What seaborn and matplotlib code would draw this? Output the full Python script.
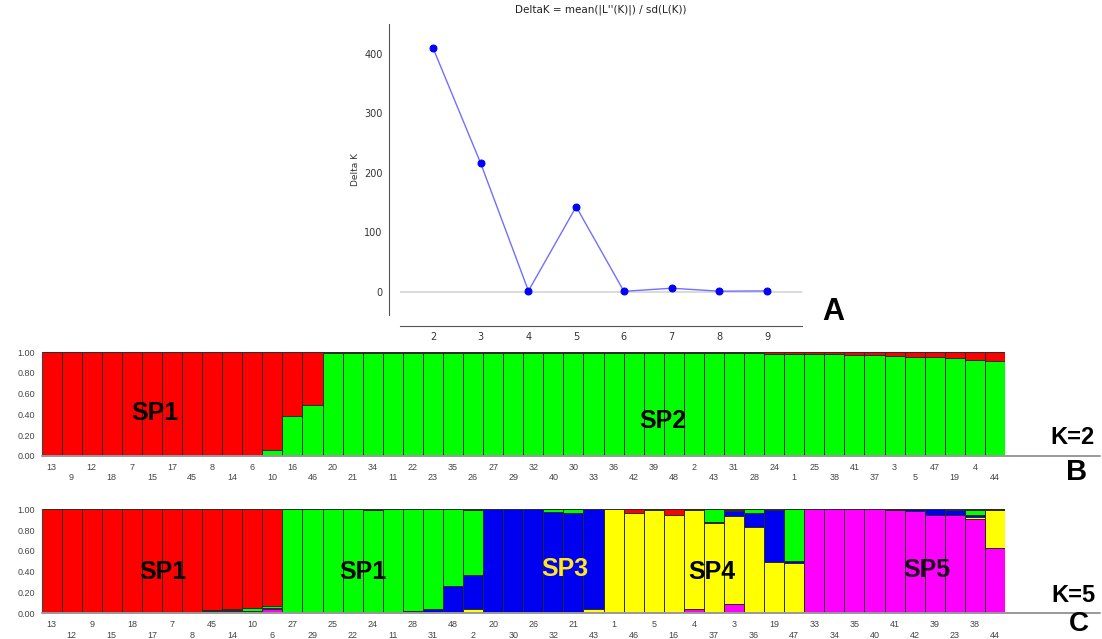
import numpy as np
import pandas as pd
import matplotlib.pyplot as plt
import seaborn as sns

# Panel A: Evanno delta K
k_values = [2, 3, 4, 5, 6, 7, 8, 9]
delta_k = [410, 216, 1.5, 143, 0.8, 6, 1.0, 1.5]

# Panel B: K=2 membership (order of individuals as plotted)
b_ids = ["13", "9", "12", "18", "7", "15", "17", "45", "8", "14", "6", "10",
         "16", "46", "20", "21", "34", "11", "22", "23", "35", "26", "27", "29",
         "32", "40", "30", "33", "36", "42", "39", "48", "2", "43", "31", "28",
         "24", "1", "25", "38", "41", "37", "3", "5", "47", "19", "4", "44"]
b_green = [0, 0, 0, 0, 0, 0, 0, 0, 0.005, 0.007, 0.01, 0.055,
           0.384, 0.487, 0.997, 0.997, 0.997, 0.997, 0.997, 0.997, 0.997, 0.997, 0.997, 0.997,
           0.995, 0.995, 0.995, 0.995, 0.995, 0.995, 0.995, 0.995, 0.992, 0.992, 0.992, 0.992,
           0.98, 0.98, 0.98, 0.98, 0.97, 0.97, 0.965, 0.955, 0.95, 0.945, 0.93, 0.92]
b_red = [1, 1, 1, 1, 1, 1, 1, 1, 0.995, 0.993, 0.99, 0.945,
         0.616, 0.513, 0.003, 0.003, 0.003, 0.003, 0.003, 0.003, 0.003, 0.003, 0.003, 0.003,
         0.005, 0.005, 0.005, 0.005, 0.005, 0.005, 0.005, 0.005, 0.008, 0.008, 0.008, 0.008,
         0.02, 0.02, 0.02, 0.02, 0.03, 0.03, 0.035, 0.045, 0.05, 0.055, 0.07, 0.08]

# Panel C: K=5 membership
c_ids = ["13", "12", "9", "15", "18", "17", "7", "8", "45", "14", "10", "6",
         "27", "29", "25", "22", "24", "11", "28", "31", "48", "2", "20", "30",
         "26", "32", "21", "43", "1", "46", "5", "16", "4", "37", "3", "36",
         "19", "47", "33", "34", "35", "40", "41", "42", "39", "23", "38", "44"]
c_magenta = [0, 0, 0, 0, 0, 0, 0, 0.005, 0, 0, 0.005, 0.04,
             0, 0, 0, 0, 0, 0, 0, 0.005, 0.005, 0, 0, 0,
             0, 0, 0, 0, 0.005, 0, 0.015, 0, 0.045, 0, 0.09, 0,
             0, 0, 1, 1, 1, 1, 0.99, 0.985, 0.95, 0.95, 0.905, 0.625]
c_yellow = [0, 0, 0, 0, 0, 0, 0, 0, 0.025, 0.025, 0.01, 0.005,
            0, 0, 0, 0, 0, 0, 0, 0, 0.01, 0.04, 0, 0,
            0, 0, 0, 0.045, 0.995, 0.965, 0.975, 0.95, 0.945, 0.87, 0.85, 0.83,
            0.49, 0.48, 0, 0, 0, 0, 0, 0, 0, 0, 0.025, 0.365]
c_blue = [0, 0, 0, 0, 0, 0.005, 0.01, 0.01, 0.005, 0.01, 0.01, 0.01,
          0, 0, 0, 0.01, 0.01, 0.015, 0.02, 0.04, 0.25, 0.33, 1, 1,
          1, 0.975, 0.965, 0.955, 0, 0, 0, 0, 0.01, 0.01, 0.04, 0.135,
          0.5, 0.02, 0, 0, 0, 0, 0.01, 0.015, 0.05, 0.045, 0.02, 0.01]
c_green = [0, 0, 0, 0, 0, 0, 0, 0, 0, 0.005, 0.025, 0.015,
           1, 1, 1, 0.99, 0.98, 0.985, 0.98, 0.955, 0.735, 0.62, 0, 0,
           0, 0.025, 0.035, 0, 0, 0, 0, 0, 0, 0.12, 0.01, 0.035,
           0, 0.5, 0, 0, 0, 0, 0, 0, 0, 0.005, 0.04, 0]
c_red = [1, 1, 1, 1, 1, 0.995, 0.99, 0.985, 0.97, 0.96, 0.95, 0.93,
         0, 0, 0, 0, 0.01, 0, 0, 0, 0, 0.01, 0, 0,
         0, 0, 0, 0, 0, 0.035, 0.01, 0.05, 0, 0, 0.01, 0,
         0.01, 0, 0, 0, 0, 0, 0, 0, 0, 0, 0.01, 0]

RED, GREEN, BLUE, YELLOW, MAGENTA = "#ff0000", "#00ff00", "#0000f0", "#ffff00", "#ff00ff"

sns.set_theme(style="white")
plt.rcParams['font.family'] = ['Liberation Sans', 'DejaVu Sans']

W, H = 1102, 639
fig = plt.figure(figsize=(W / 100, H / 100), dpi=100)


def px_axes(left, top, right, bottom):
    return fig.add_axes([left / W, 1 - bottom / H, (right - left) / W, (bottom - top) / H])


def px_text(x, y, s, **kw):
    fig.text(x / W, 1 - y / H, s, ha='center', va='center', **kw)


# ---- Panel A
axA = px_axes(400, 24, 802, 315)
axA.axhline(0, color='#d4d4d4', lw=1.2, zorder=0)
sns.lineplot(x=k_values, y=delta_k, ax=axA, color='#7070ff', lw=1.0, marker='o',
             markersize=5, markerfacecolor='#0000ff', markeredgecolor='#0000ff')
axA.set_xlim(1.31, 9.73)
axA.set_ylim(-39, 450)
axA.set_xticks(k_values)
axA.set_yticks([0, 100, 200, 300, 400])
for side in ['top', 'right']:
    axA.spines[side].set_visible(False)
for side in ['left', 'bottom']:
    axA.spines[side].set_position(('outward', 8))
    axA.spines[side].set_color('#555555')
    axA.spines[side].set_linewidth(0.8)
axA.tick_params(axis='both', direction='out', length=3, width=0.6, color='#555555',
                labelsize=7, labelcolor='#333333', pad=1.5)
for t in axA.get_xticklabels() + axA.get_yticklabels():
    t.set_family('DejaVu Sans')
axA.set_xlabel('')
axA.set_ylabel('Delta K', fontsize=6.5, color='#333333', family='DejaVu Sans', labelpad=3)
axA.set_title("DeltaK = mean(|L''(K)|) / sd(L(K))", fontsize=7.5, color='#222222',
              family='DejaVu Sans', pad=8)


def structure_panel(ax, ids, layers, colors):
    # layers given bottom -> top; draw cumulative heights from the top layer down
    cum = np.zeros(len(ids))
    tops = []
    for vals in layers:
        cum = cum + np.array(vals, dtype=float)
        tops.append(cum.copy())
    for top, col in reversed(list(zip(tops, colors))):
        df = pd.DataFrame({'id': ids, 'q': top})
        sns.barplot(data=df, x='id', y='q', order=ids, color=col, width=1,
                    saturation=1, edgecolor='#2a2a2a', linewidth=0.7,
                    errorbar=None, ax=ax)
    n = len(ids)
    ax.set_xlim(-0.5, n - 0.5)
    ax.set_ylim(0, 1)
    ax.set_xticks(range(n))
    ax.set_xticklabels([s if i % 2 == 0 else '\n' + s for i, s in enumerate(ids)])
    ax.set_yticks([0, 0.2, 0.4, 0.6, 0.8, 1.0])
    ax.set_yticklabels(['0.00', '0.20', '0.40', '0.60', '0.80', '1.00'])
    ax.set_xlabel('')
    ax.set_ylabel('')
    for side in ['top', 'right', 'bottom']:
        ax.spines[side].set_visible(False)
    ax.spines['left'].set_color('#444444')
    ax.spines['left'].set_linewidth(0.8)
    ax.tick_params(axis='both', direction='out', length=3, width=0.6, color='#555555',
                   labelsize=6.5, labelcolor='#444444', pad=1.5)
    ax.tick_params(axis='x', pad=2)
    ax.axhline(0, xmin=0, xmax=(1100 - 41.5) / (1005 - 41.5), color='#999999',
               lw=1.4, clip_on=False, zorder=5)


# ---- Panel B (K=2)
axB = px_axes(41.5, 352.3, 1005, 455.7)
structure_panel(axB, b_ids, [b_green, b_red], [GREEN, RED])

# ---- Panel C (K=5)
axC = px_axes(41.5, 509.3, 1005, 613.3)
structure_panel(axC, c_ids, [c_magenta, c_yellow, c_blue, c_green, c_red],
                [MAGENTA, YELLOW, BLUE, GREEN, RED])

bold = dict(weight='bold', family='Liberation Sans')
px_text(155, 413, 'SP1', fontsize=18, color='black', **bold)
px_text(663, 421, 'SP2', fontsize=18, color='black', **bold)
px_text(163, 572, 'SP1', fontsize=18, color='black', **bold)
px_text(363, 572, 'SP1', fontsize=18, color='black', **bold)
px_text(565, 569, 'SP3', fontsize=18, color='#ffe820', **bold)
px_text(712, 572, 'SP4', fontsize=18, color='black', **bold)
px_text(927, 570, 'SP5', fontsize=18, color='#1a001a', **bold)

px_text(1073, 438, 'K=2', fontsize=17, color='black', **bold)
px_text(1073, 596, 'K=5', fontsize=17, color='black', **bold)
px_text(833, 312, 'A', fontsize=22, color='black', **bold)
px_text(1077, 472, 'B', fontsize=21, color='black', **bold)
px_text(1079, 624, 'C', fontsize=20, color='black', **bold)

fig.savefig('out.png', dpi=100)
